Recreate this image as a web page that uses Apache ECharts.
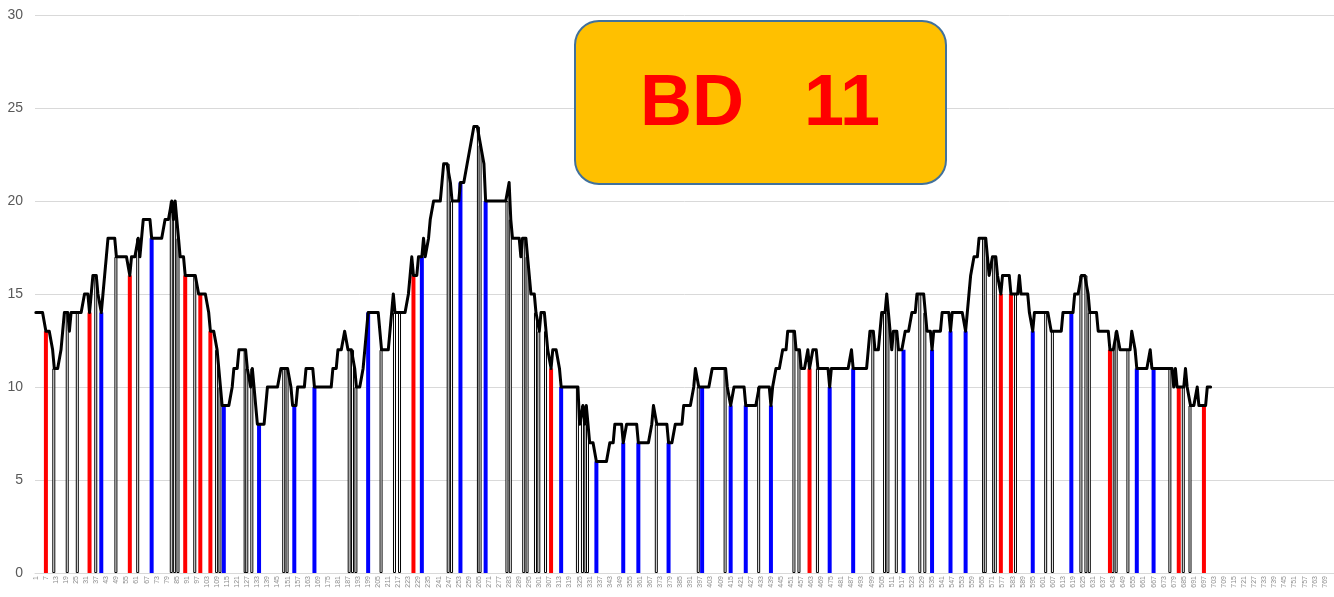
<!DOCTYPE html>
<html>
<head>
<meta charset="utf-8">
<script src="https://cdn.jsdelivr.net/npm/echarts@6/dist/echarts.min.js"></script>
<style>
html,body{margin:0;padding:0;background:#fff;}
#chart{width:1334px;height:597px;}
</style>
</head>
<body>
<div id="chart"></div>
<script>
// ---- data ----
const categoryCount = 774;
const yTicks = [0, 5, 10, 15, 20, 25, 30];
// stepped line: [first category of run, value]
const lineSteps = [
[1,14],[7,13],[11,12],[12,11],[16,12],[17,13],[18,14],[21,13],[22,14],[30,15],[33,14],[34,15],[35,16],[38,15],[40,14],[41,15],[42,16],[43,17],[44,18],[49,17],[57,16],[58,17],[62,18],[63,17],[64,18],[65,19],
[70,18],[78,19],[82,20],[83,19],[84,20],[85,19],[86,18],[87,17],[90,16],[98,15],[104,14],[105,13],[109,12],[110,11],[111,10],[112,9],[118,10],[119,11],[122,12],[127,11],[129,10],[130,11],[131,10],[132,9],[133,8],[138,9],[139,10],[147,11],[153,10],[154,9],[157,10],[162,11],[167,10],[178,11],[181,12],[185,13],[187,12],[191,11],[192,10],[196,11],[197,12],[198,13],
[199,14],[207,12],[213,14],[214,15],[215,14],[223,15],[224,16],[225,17],[226,16],[229,17],[232,18],[233,17],[235,18],[236,19],[238,20],[243,21],[244,22],[248,21],[249,20],[254,21],[258,22],[260,23],[262,24],[266,23],[268,22],[269,20],[283,21],[284,19],[285,18],[290,17],[291,18],[294,17],[295,16],[296,15],[299,14],[301,13],[302,14],[305,13],[306,12],[308,11],[309,12],[313,11],[314,10],[325,8],[327,9],[328,8],[329,9],[330,8],
[331,7],[335,6],[343,7],[346,8],[351,7],[353,8],[360,7],[368,8],[369,9],[371,8],[378,7],[382,8],[387,9],[393,10],[394,11],[396,10],[404,11],[413,10],[415,9],[417,10],[424,9],[432,10],[439,9],[440,10],[442,11],[446,12],[449,13],[454,12],[457,11],[461,12],
[462,11],[464,12],[467,11],[474,10],[475,11],[487,12],[488,11],[497,12],[498,13],[501,12],[504,13],[505,14],[508,15],[509,14],[510,13],[511,12],[512,13],[515,12],[519,13],[523,14],[526,15],[531,14],[532,13],[535,12],[536,13],[541,14],[546,13],[547,14],[555,13],[556,14],[557,15],[558,16],[560,17],[563,18],[568,17],[569,16],[571,17],[574,16],[576,15],[577,16],[582,15],[587,16],[588,15],[593,14],
[595,13],[596,14],[606,13],[613,14],[620,15],[624,16],[628,15],[629,14],[634,13],[641,12],[645,13],[647,12],[654,13],[656,12],[657,11],[665,12],[666,11],[679,10],[680,11],[681,10],[686,11],[687,10],[689,9],[693,10],[694,9],[699,10]
];
const lineLastCategory = 701;
const redBars = [7,33,57,90,99,105,226,308,462,576,582,641,682,697];
const blueBars = [40,70,113,134,155,167,199,231,254,269,314,335,351,360,378,398,415,424,439,474,488,518,535,546,555,595,618,657,667];
const blackBars = [12,20,26,37,49,62,82,84,86,96,109,111,126,127,130,149,151,188,190,192,207,215,218,247,249,265,266,282,284,292,294,299,301,305,324,327,329,330,371,396,412,432,453,456,467,500,507,509,514,528,531,566,567,572,573,585,603,607,624,627,629,643,645,652,677,685,689];
const boxText = 'BD   11';

// ---- build ----
const categories = [];
for (let i = 1; i <= categoryCount; i++) categories.push(String(i));
const lineVals = new Array(categoryCount).fill('-');
for (let s = 0; s < lineSteps.length; s++) {
  const start = lineSteps[s][0];
  const end = s + 1 < lineSteps.length ? lineSteps[s + 1][0] - 1 : lineLastCategory;
  for (let c = start; c <= end; c++) lineVals[c - 1] = lineSteps[s][1];
}
function barData(list) {
  const arr = new Array(categoryCount).fill('-');
  list.forEach(c => { arr[c - 1] = lineVals[c - 1]; });
  return arr;
}

const chart = echarts.init(document.getElementById('chart'), null, {renderer: 'canvas'});
chart.setOption({
  animation: false,
  backgroundColor: '#ffffff',
  grid: {left: 35, right: 0, top: 15, bottom: 24, containLabel: false},
  xAxis: {
    type: 'category',
    data: categories,
    boundaryGap: true,
    axisLine: {lineStyle: {color: '#D9D9D9', width: 1}},
    axisTick: {show: false},
    axisLabel: {interval: 5, rotate: 90, fontSize: 7, color: '#8C8C8C', margin: 3, fontFamily: 'Liberation Sans'},
    splitLine: {show: false}
  },
  yAxis: {
    type: 'value',
    min: yTicks[0], max: yTicks[yTicks.length - 1], interval: 5,
    axisLine: {show: false},
    axisTick: {show: false},
    axisLabel: {fontSize: 14, color: '#595959', margin: 12, fontFamily: 'Liberation Sans'},
    splitLine: {lineStyle: {color: '#D9D9D9', width: 1}}
  },
  series: [
    {type: 'bar', data: barData(blackBars), barWidth: 3, barGap: '-100%',
     itemStyle: {color: '#ffffff', borderColor: '#000000', borderWidth: 1}, z: 2},
    {type: 'bar', data: barData(redBars), barWidth: 4, barGap: '-100%',
     itemStyle: {color: '#FF0000'}, z: 3},
    {type: 'bar', data: barData(blueBars), barWidth: 4, barGap: '-100%',
     itemStyle: {color: '#0000FF'}, z: 3},
    {type: 'line', data: lineVals, symbol: 'none', z: 5,
     lineStyle: {color: '#000000', width: 3, join: 'round', cap: 'round'}}
  ],
  graphic: [
    {type: 'rect', left: 574, top: 20, z: 10,
     shape: {width: 371, height: 163, r: 24},
     style: {fill: '#FFC000', stroke: '#41719C', lineWidth: 2}},
    {type: 'text', z: 11, x: 760, y: 105,
     style: {text: boxText, fill: '#FF0000', font: 'bold 72px "Liberation Sans"', textAlign: 'center', textVerticalAlign: 'middle'}}
  ]
});
</script>
</body>
</html>
